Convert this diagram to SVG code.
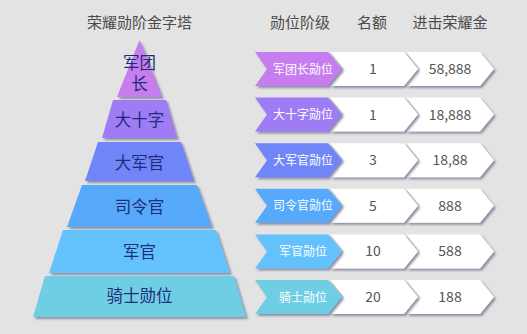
<svg xmlns="http://www.w3.org/2000/svg" width="527" height="334" viewBox="0 0 527 334">
<defs>
<filter id="sh" x="-10%" y="-20%" width="130%" height="150%">
<feDropShadow dx="2" dy="2" stdDeviation="1" flood-color="#55557a" flood-opacity="0.6"/>
</filter>
<path id="cc" d="M255,-17 H328 L342,0 L328,17 H255 L267,0 Z"/>
<path id="w1" d="M330,-17 H404 L418,0 L404,17 H330 L344,0 Z"/>
<path id="w2" d="M406,-17 H480 L494,0 L480,17 H406 L420,0 Z"/>
</defs>
<style>
text{font-family:"Noto Sans CJK SC","Noto Sans",sans-serif;text-anchor:middle}
.hd{font-size:15px;fill:#4a4a4a}
.py{font-size:16.5px;fill:#1f2d78}
.lb{font-size:12px;fill:#ffffff}
.nm{font-size:14px;fill:#555555}
.wh{fill:#ffffff}
.layer{filter:url(#sh)}
</style>
<rect width="527" height="334" fill="#e3e3e3"/>
<g id="headers">
<text class="hd" x="139.5" y="28">荣耀勋阶金字塔</text>
<text class="hd" x="300" y="28">勋位阶级</text>
<text class="hd" x="372" y="28">名额</text>
<text class="hd" x="450" y="28">进击荣耀金</text>
</g>
<g id="pyramid">
<g id="p1"><polygon class="layer" points="139.5,40 162,97 117,97" fill="#c77cf0"/><text class="py" x="139.5" y="68.5">军团<tspan x="139.5" dy="21">长</tspan></text></g>
<g id="p2"><polygon class="layer" points="113,100 166,100 177,138 102,138" fill="#9e7bf6"/><text class="py" x="139.5" y="126">大十字</text></g>
<g id="p3"><polygon class="layer" points="98,142 181,142 194,181 85,181" fill="#6f86f8"/><text class="py" x="139.5" y="169">大军官</text></g>
<g id="p4"><polygon class="layer" points="82,185 197,185 212,227 67,227" fill="#57a9fb"/><text class="py" x="139.5" y="213">司令官</text></g>
<g id="p5"><polygon class="layer" points="63,230 216,230 230,273 49,273" fill="#63c2fc"/><text class="py" x="139.5" y="258">军官</text></g>
<g id="p6"><polygon class="layer" points="45,276 234,276 246,317 33,317" fill="#70cee4"/><text class="py" x="139.5" y="302">骑士勋位</text></g>
</g>
<g id="row1" transform="translate(0,69)">
<use href="#w2" class="wh layer"/><use href="#w1" class="wh layer"/><use href="#cc" class="layer" fill="#c77cf0"/>
<text class="lb" x="303" y="4.5">军团长勋位</text><text class="nm" x="373" y="5">1</text><text class="nm" x="450" y="5">58,888</text>
</g>
<g id="row2" transform="translate(0,114.6)">
<use href="#w2" class="wh layer"/><use href="#w1" class="wh layer"/><use href="#cc" class="layer" fill="#9e7bf6"/>
<text class="lb" x="303" y="4.5">大十字勋位</text><text class="nm" x="373" y="5">1</text><text class="nm" x="450" y="5">18,888</text>
</g>
<g id="row3" transform="translate(0,160.2)">
<use href="#w2" class="wh layer"/><use href="#w1" class="wh layer"/><use href="#cc" class="layer" fill="#6f86f8"/>
<text class="lb" x="303" y="4.5">大军官勋位</text><text class="nm" x="373" y="5">3</text><text class="nm" x="450" y="5">18,88</text>
</g>
<g id="row4" transform="translate(0,205.8)">
<use href="#w2" class="wh layer"/><use href="#w1" class="wh layer"/><use href="#cc" class="layer" fill="#57a9fb"/>
<text class="lb" x="303" y="4.5">司令官勋位</text><text class="nm" x="373" y="5">5</text><text class="nm" x="450" y="5">888</text>
</g>
<g id="row5" transform="translate(0,251.4)">
<use href="#w2" class="wh layer"/><use href="#w1" class="wh layer"/><use href="#cc" class="layer" fill="#63c2fc"/>
<text class="lb" x="303" y="4.5">军官勋位</text><text class="nm" x="373" y="5">10</text><text class="nm" x="450" y="5">588</text>
</g>
<g id="row6" transform="translate(0,297)">
<use href="#w2" class="wh layer"/><use href="#w1" class="wh layer"/><use href="#cc" class="layer" fill="#70cee4"/>
<text class="lb" x="303" y="4.5">骑士勋位</text><text class="nm" x="373" y="5">20</text><text class="nm" x="450" y="5">188</text>
</g>
</svg>
